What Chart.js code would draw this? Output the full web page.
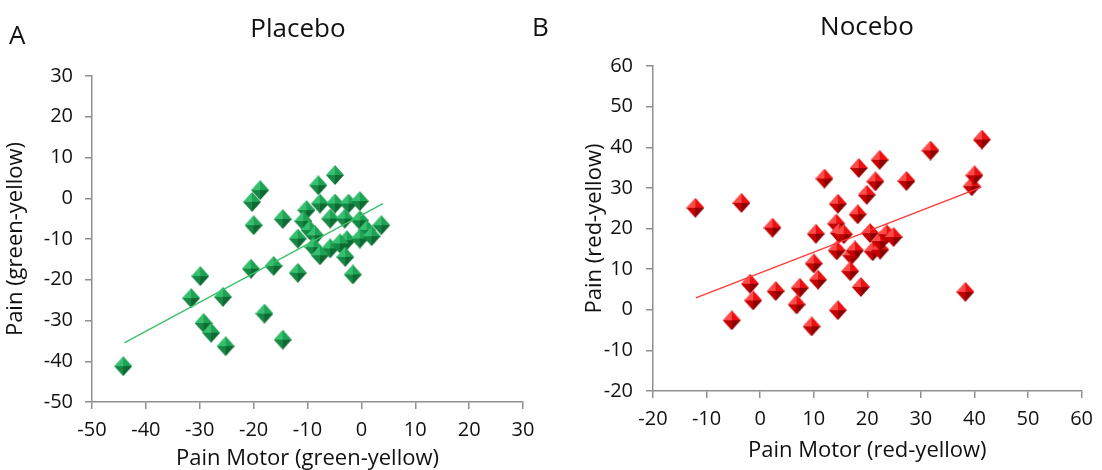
<!DOCTYPE html>
<html>
<head>
<meta charset="utf-8">
<script src="https://cdn.jsdelivr.net/npm/chart.js@4.4.1/dist/chart.umd.min.js"></script>
<style>
  body { margin: 0; background: #fff; width: 1102px; height: 470px; position: relative; overflow: hidden; font-family: "Open Sans", Lato, sans-serif; }
  .box { position: absolute; top: 0; width: 551px; height: 470px; }
  .lbl { position: absolute; font-size: 26px; line-height: 26px; color: #111; white-space: nowrap; }
  .ctr { transform: translateX(-50%); }
</style>
</head>
<body>
<div class="box" style="left:0"><canvas id="placebo" width="551" height="470"></canvas></div>
<div class="box" style="left:551px"><canvas id="nocebo" width="551" height="470"></canvas></div>
<div class="lbl" style="left:9px;top:21px">A</div>
<div class="lbl ctr" style="left:298px;top:14px">Placebo</div>
<div class="lbl" style="left:532px;top:13px">B</div>
<div class="lbl ctr" style="left:867px;top:12px">Nocebo</div>
<script>
// Placebo: pain motor vs pain (green-yellow)
var placeboMotor = [-44.2, -29.9, -31.6, -25.7, -29.3, -27.9, -25.2, -18, -14.6, -20.5,
  -16.3, -11.8, -1.6, -20, -20.3, -18.8, -14.6, -8, -4.9, -10.2,
  -7.7, -4.9, -2.4, -0.3, -10.8, -5.8, -3.1, -0.3, 3.7, 1,
  -9.6, -11.8, -8.6, -2.7, -0.3, 1.9, -8.9, -5.8, -4, -7.7, -3]
var placeboPain = [-41.2, -19.1, -24.5, -24.2, -30.6, -33, -36.3, -28.3, -34.7, -17.3,
  -16.6, -18.3, -18.7, -6.6, -0.9, 2, -5.1, 3.2, 5.7, -2.9,
  -1.3, -1.3, -1.3, -0.7, -5.6, -5, -5, -5.4, -6.6, -7.8,
  -7.8, -9.9, -9.1, -10.3, -9.9, -9.3, -12, -12.3, -11.1, -14, -14.4]
var placeboFitX = [-44, 4]
var placeboFitY = [-35.5, -1.3]

// Nocebo: pain motor vs pain (red-yellow)
var noceboMotor = [-12.1, -3.5, 2.3, -1.9, -1.3, -5.3, 2.9, 7.4, 6.8, 9.6,
  10, 10.8, 10.4, 12, 14.5, 14.3, 14.5, 14.2, 14.7, 15.6,
  17, 17.7, 16.8, 18.8, 18.2, 18.4, 19.9, 21.5, 22.3, 20.5,
  21, 22.4, 22.4, 23.6, 24.9, 27.3, 31.8, 38.3, 39.5, 40, 41.4]
var noceboPain = [25.1, 26.3, 20.2, 6.4, 2.3, -2.6, 4.6, 5.4, 1.3, -4.1,
  11.4, 7.4, 18.7, 32.3, -0.1, 14.6, 26.1, 21.2, 18.9, 18.6,
  13.4, 14.6, 9.5, 5.6, 23.5, 34.9, 28.3, 31.6, 36.9, 18.9,
  14.4, 14.8, 16.9, 18.6, 17.9, 31.7, 39.2, 4.4, 30.4, 33.1, 41.9]
var noceboFitX = [-12, 41.3]
var noceboFitY = [2.9, 30.2]

var fontFam = '"Open Sans", Lato, sans-serif'
var axisGray = '#8f8f8f'

// beveled diamond marker like the excel one
function makeDiamond(c) {
  var cv = document.createElement('canvas')
  cv.width = 18; cv.height = 20
  var g = cv.getContext('2d')
  var cx = 9, cy = 10
  var faces = [
    [[0, 10], [9, 0], c[0]],
    [[9, 0], [18, 10], c[1]],
    [[0, 10], [9, 20], c[2]],
    [[9, 20], [18, 10], c[3]]
  ]
  faces.forEach(function (f) {
    g.beginPath()
    g.moveTo(cx, cy)
    g.lineTo(f[0][0], f[0][1])
    g.lineTo(f[1][0], f[1][1])
    g.closePath()
    g.fillStyle = f[2]
    g.fill()
  })
  return cv
}

var greenMark = makeDiamond(['#35bf6e', '#1ea254', '#178744', '#0d6a33'])
var redMark = makeDiamond(['#ff4a4a', '#ec1010', '#c40000', '#8e0000'])

function toPts(xs, ys) {
  return xs.map(function (x, i) { return { x: x, y: ys[i] } })
}

function makeChart(id, opt) {
  return new Chart(document.getElementById(id), {
    type: 'scatter',
    data: {
      datasets: [{
        type: 'line',
        data: toPts(opt.fitX, opt.fitY),
        borderColor: opt.lineColor,
        borderWidth: 1.4,
        pointRadius: 0,
        fill: false
      }, {
        data: toPts(opt.xs, opt.ys),
        pointStyle: opt.mark,
        pointRadius: 9
      }]
    },
    options: {
      responsive: false,
      animation: false,
      events: [],
      layout: { padding: { top: opt.top, right: opt.right, left: 0, bottom: 0 } },
      plugins: { legend: { display: false }, tooltip: { enabled: false } },
      scales: {
        x: {
          type: 'linear', min: opt.xMin, max: opt.xMax,
          ticks: { stepSize: 10, color: '#111', font: { size: 20, family: fontFam }, padding: 9 },
          grid: { drawOnChartArea: false, tickLength: 7, color: axisGray, lineWidth: 1.5 },
          border: { color: axisGray, width: 1.5 },
          title: { display: true, text: opt.xTitle, color: '#111', font: { size: 22, family: fontFam, lineHeight: 1 }, padding: { top: 0, bottom: opt.xTitlePad } },
          afterFit: function (s) { s.height = opt.xH }
        },
        y: {
          type: 'linear', min: opt.yMin, max: opt.yMax,
          ticks: { stepSize: 10, color: '#111', font: { size: 20, family: fontFam }, padding: opt.yTickPad },
          grid: { drawOnChartArea: false, tickLength: 7, color: axisGray, lineWidth: 1.5 },
          border: { color: axisGray, width: 1.5 },
          // for a left axis chart.js offsets the title by padding.top
          title: { display: true, text: opt.yTitle, color: '#111', font: { size: 22, family: fontFam, lineHeight: 1 }, padding: { top: opt.yTitlePad, bottom: 0 } },
          afterFit: function (s) { s.width = opt.yW }
        }
      }
    }
  })
}

makeChart('placebo', {
  xs: placeboMotor, ys: placeboPain, fitX: placeboFitX, fitY: placeboFitY,
  mark: greenMark, lineColor: '#3cc06c',
  xMin: -50, xMax: 30, yMin: -50, yMax: 30,
  xTitle: 'Pain Motor (green-yellow)', yTitle: 'Pain (green-yellow)',
  top: 76, right: 28, xH: 68, yW: 92, xTitlePad: 0, yTitlePad: 5, yTickPad: 12
})

makeChart('nocebo', {
  xs: noceboMotor, ys: noceboPain, fitX: noceboFitX, fitY: noceboFitY,
  mark: redMark, lineColor: '#ff3a3a',
  xMin: -20, xMax: 60, yMin: -20, yMax: 60,
  xTitle: 'Pain Motor (red-yellow)', yTitle: 'Pain (red-yellow)',
  top: 66, right: 18, xH: 79, yW: 102, xTitlePad: 8, yTitlePad: 33, yTickPad: 13
})
</script>
</body>
</html>
